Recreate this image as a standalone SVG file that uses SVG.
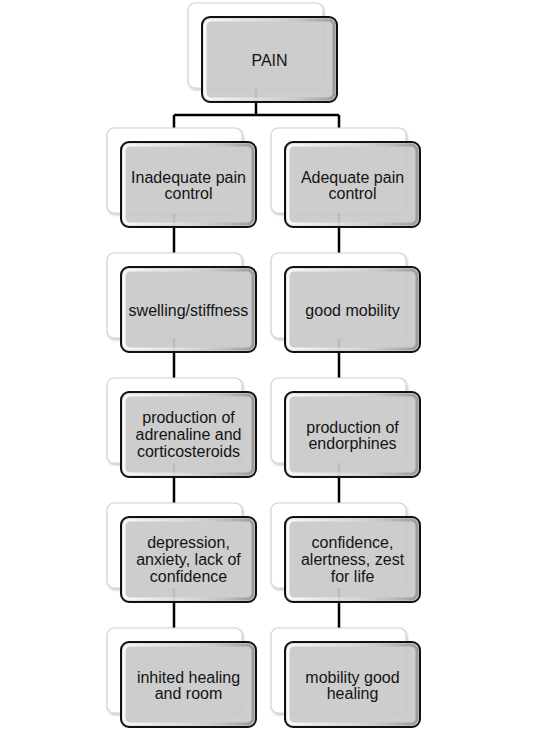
<svg xmlns="http://www.w3.org/2000/svg" width="545" height="736" viewBox="0 0 545 736">
<style>
.back{fill:#ffffff;stroke:#d2d2d2;stroke-width:1.2}
.front{fill:#c9c9c9;fill-opacity:0.93;stroke:#111;stroke-width:2}
.bevel{fill:none;stroke:url(#bev);stroke-width:3}
.t{font-family:"Liberation Sans",Arial,sans-serif;font-size:16px;fill:#141414;text-anchor:middle}
.c{stroke:#000;stroke-width:2.5;fill:none}
</style>
<defs>
<linearGradient id="bev" x1="0" y1="0" x2="1" y2="0">
<stop offset="0" stop-color="#ffffff" stop-opacity="0.9"/>
<stop offset="0.5" stop-color="#e8e8e8" stop-opacity="0.5"/>
<stop offset="1" stop-color="#8f8f8f" stop-opacity="0.8"/>
</linearGradient>
<filter id="sh" x="-10%" y="-10%" width="130%" height="130%">
<feDropShadow dx="1" dy="1.5" stdDeviation="1.2" flood-color="#000" flood-opacity="0.25"/>
</filter>
</defs>
<rect width="545" height="736" fill="#fff"/>
<g id="connectors">
<path class="c" d="M256 60V115M174 115H339M174 115V628M339 115V628"/>
</g>
<g id="pain">
<rect class="back" x="188" y="3" width="135" height="85" rx="7" filter="url(#sh)"/>
<rect class="front" x="202" y="17" width="135" height="85" rx="8"/>
<rect class="bevel" x="205" y="20" width="129" height="79" rx="6"/>
<text class="t" x="269.5" y="65.5">PAIN</text>
</g>
<g id="inadequate">
<rect class="back" x="107" y="128" width="135" height="85" rx="7" filter="url(#sh)"/>
<rect class="front" x="121" y="142" width="135" height="85" rx="8"/>
<rect class="bevel" x="124" y="145" width="129" height="79" rx="6"/>
<text class="t" x="188.5" y="182.5">Inadequate pain</text>
<text class="t" x="188.5" y="199">control</text>
</g>
<g id="adequate">
<rect class="back" x="271" y="128" width="135" height="85" rx="7" filter="url(#sh)"/>
<rect class="front" x="285" y="142" width="135" height="85" rx="8"/>
<rect class="bevel" x="288" y="145" width="129" height="79" rx="6"/>
<text class="t" x="352.5" y="182.5">Adequate pain</text>
<text class="t" x="352.5" y="199">control</text>
</g>
<g id="swelling">
<rect class="back" x="107" y="253" width="135" height="85" rx="7" filter="url(#sh)"/>
<rect class="front" x="121" y="267" width="135" height="85" rx="8"/>
<rect class="bevel" x="124" y="270" width="129" height="79" rx="6"/>
<text class="t" x="188.5" y="315.5">swelling/stiffness</text>
</g>
<g id="mobility">
<rect class="back" x="271" y="253" width="135" height="85" rx="7" filter="url(#sh)"/>
<rect class="front" x="285" y="267" width="135" height="85" rx="8"/>
<rect class="bevel" x="288" y="270" width="129" height="79" rx="6"/>
<text class="t" x="352.5" y="315.5">good mobility</text>
</g>
<g id="adrenaline">
<rect class="back" x="107" y="378" width="135" height="85" rx="7" filter="url(#sh)"/>
<rect class="front" x="121" y="392" width="135" height="85" rx="8"/>
<rect class="bevel" x="124" y="395" width="129" height="79" rx="6"/>
<text class="t" x="188.5" y="423">production of</text>
<text class="t" x="188.5" y="440">adrenaline and</text>
<text class="t" x="188.5" y="457">corticosteroids</text>
</g>
<g id="endorphines">
<rect class="back" x="271" y="378" width="135" height="85" rx="7" filter="url(#sh)"/>
<rect class="front" x="285" y="392" width="135" height="85" rx="8"/>
<rect class="bevel" x="288" y="395" width="129" height="79" rx="6"/>
<text class="t" x="352.5" y="432.5">production of</text>
<text class="t" x="352.5" y="449">endorphines</text>
</g>
<g id="depression">
<rect class="back" x="107" y="503" width="135" height="85" rx="7" filter="url(#sh)"/>
<rect class="front" x="121" y="517" width="135" height="85" rx="8"/>
<rect class="bevel" x="124" y="520" width="129" height="79" rx="6"/>
<text class="t" x="188.5" y="548">depression,</text>
<text class="t" x="188.5" y="565">anxiety, lack of</text>
<text class="t" x="188.5" y="582">confidence</text>
</g>
<g id="confidence">
<rect class="back" x="271" y="503" width="135" height="85" rx="7" filter="url(#sh)"/>
<rect class="front" x="285" y="517" width="135" height="85" rx="8"/>
<rect class="bevel" x="288" y="520" width="129" height="79" rx="6"/>
<text class="t" x="352.5" y="548">confidence,</text>
<text class="t" x="352.5" y="565">alertness, zest</text>
<text class="t" x="352.5" y="582">for life</text>
</g>
<g id="inhited">
<rect class="back" x="107" y="628" width="135" height="85" rx="7" filter="url(#sh)"/>
<rect class="front" x="121" y="642" width="135" height="85" rx="8"/>
<rect class="bevel" x="124" y="645" width="129" height="79" rx="6"/>
<text class="t" x="188.5" y="682.5">inhited healing</text>
<text class="t" x="188.5" y="699">and room</text>
</g>
<g id="healing">
<rect class="back" x="271" y="628" width="135" height="85" rx="7" filter="url(#sh)"/>
<rect class="front" x="285" y="642" width="135" height="85" rx="8"/>
<rect class="bevel" x="288" y="645" width="129" height="79" rx="6"/>
<text class="t" x="352.5" y="682.5">mobility good</text>
<text class="t" x="352.5" y="699">healing</text>
</g>
</svg>
